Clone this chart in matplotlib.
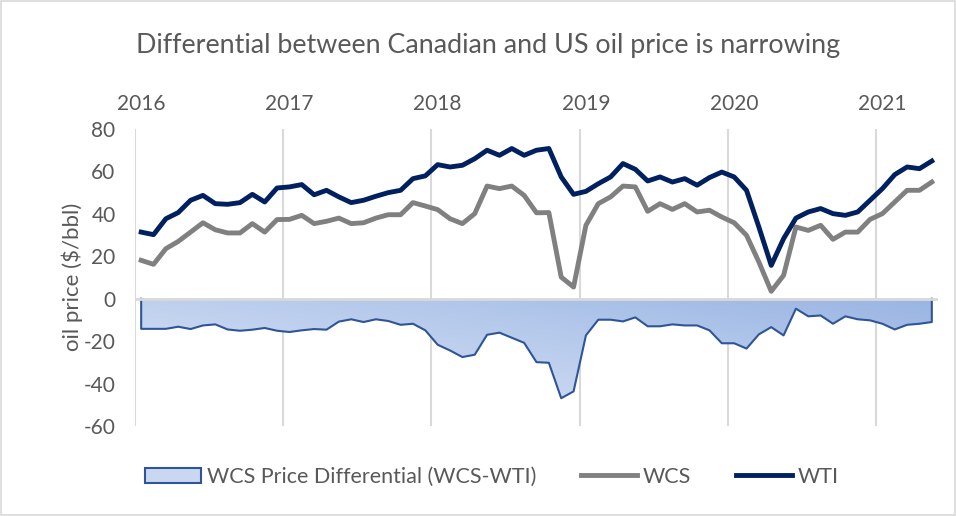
import matplotlib.pyplot as plt
import numpy as np
from matplotlib.patches import Patch, Rectangle
from matplotlib.lines import Line2D
from matplotlib.legend_handler import HandlerPatch

# Monthly prices, Jan 2016 - May 2021 ($/bbl)
wti = [31.4, 30.2, 37.7, 40.6, 46.4, 48.7, 44.8, 44.5, 45.3, 49.2, 45.6, 52.2,
       52.7, 53.8, 49.0, 51.1, 48.0, 45.3, 46.4, 48.3, 50.0, 51.1, 56.6, 57.9,
       63.2, 62.1, 62.9, 66.0, 70.0, 67.6, 70.8, 67.6, 70.0, 70.8, 57.4, 49.2,
       50.6, 54.2, 57.4, 63.7, 61.0, 55.5, 57.4, 55.0, 56.6, 53.5, 57.1, 59.7,
       57.4, 51.1, 33.8, 15.7, 28.3, 38.0, 40.9, 42.5, 40.1, 39.3, 40.9, 46.4,
       51.9, 58.5, 62.1, 61.3, 64.9]
wcs = [18.1, 16.2, 23.6, 27.0, 31.4, 35.8, 32.5, 31.0, 31.0, 35.4, 31.4, 37.3,
       37.4, 39.3, 35.4, 36.5, 38.0, 35.4, 35.8, 38.0, 39.6, 39.6, 45.3, 43.7,
       42.0, 37.7, 35.4, 40.1, 53.1, 51.9, 53.1, 48.7, 40.5, 40.6, 10.2, 5.5,
       34.6, 44.8, 48.0, 53.1, 52.7, 41.2, 44.8, 42.1, 44.8, 40.9, 41.7, 38.5,
       35.8, 29.9, 17.3, 3.5, 11.0, 33.8, 32.2, 34.6, 28.0, 31.4, 31.4, 37.4,
       40.1, 45.6, 51.1, 51.1, 55.0]
diff = [-14.2, -14.2, -14.2, -13.2, -14.3, -12.6, -12.1, -14.5, -15.1, -14.6, -13.8, -15.1,
        -15.7, -14.9, -14.3, -14.6, -10.8, -9.7, -11.0, -9.7, -10.5, -12.3, -11.8, -14.9,
        -21.7, -24.4, -27.5, -26.4, -17.0, -16.0, -18.4, -20.8, -29.9, -30.2, -46.9, -43.7,
        -17.3, -9.9, -9.9, -10.7, -8.8, -13.0, -13.0, -12.1, -12.6, -12.6, -14.9, -21.0,
        -21.0, -23.5, -16.8, -13.4, -17.3, -4.7, -8.3, -7.9, -11.8, -8.3, -9.7, -10.2,
        -11.8, -14.5, -12.3, -11.8, -11.0]
years = ['2016', '2017', '2018', '2019', '2020', '2021']

TEXT = '#595959'
plt.rcParams['font.family'] = ['Lato', 'DejaVu Sans']
plt.rcParams['axes.unicode_minus'] = False

months = np.arange(len(wti))
n = len(wti)

fig = plt.figure(figsize=(9.56, 5.16), dpi=100)
ax = fig.add_axes([135 / 956, 90 / 516, 803 / 956, 297 / 516])

# year gridlines sit between December and January
for k in range(len(years)):
    ax.axvline(12 * k - 0.5, color='#d9d9d9', lw=1.5, zorder=0)
ax.axhline(0, color='#d9d9d9', lw=2, zorder=3)

# differential area with a diagonal gradient
poly = ax.fill_between(months, diff, 0, color='none', lw=0, zorder=1)
xx, yy = np.meshgrid(np.linspace(0, 1, 200), np.linspace(0, 1, 100))
t = 0.55 * xx + 0.45 * yy
light = np.array([0.87, 0.905, 0.97])
dark = np.array([0.60, 0.71, 0.89])
img = light[None, None, :] + t[:, :, None] * (dark - light)[None, None, :]
im = ax.imshow(img, extent=(-0.5, n - 0.5, -50, 0), origin='lower',
               aspect='auto', zorder=1)
im.set_clip_path(poly.get_paths()[0], transform=ax.transData)
ax.plot(np.r_[0, months, n - 1], np.r_[0, diff, 0], color='#2f5597', lw=1.5, zorder=2)

ax.plot(months, wcs, color='#808080', lw=3.5, zorder=4, solid_joinstyle='round')
ax.plot(months, wti, color='#002060', lw=3.5, zorder=5, solid_joinstyle='round')

ax.set_xlim(-0.5, n - 0.5)
ax.set_ylim(-60, 80)
ax.set_yticks(range(-60, 81, 20))
ax.set_xticks(range(0, n, 12))
ax.set_xticklabels(years)
ax.xaxis.tick_top()
ax.tick_params(axis='x', length=0, pad=11, labelsize=15, labelcolor=TEXT)
ax.tick_params(axis='y', length=0, pad=14, labelsize=15, labelcolor=TEXT)
for s in ax.spines.values():
    s.set_visible(False)

fig.text(72 / 956, 1 - 277 / 516, 'oil price ($/bbl)', rotation=90, ha='center',
         va='center', fontsize=16, color=TEXT)
fig.text(488 / 956, 1 - 46 / 516, 'Differential between Canadian and US oil price is narrowing',
         ha='center', va='center', fontsize=19.4, color=TEXT)


def rect_handle(legend, orig_handle, xdescent, ydescent, width, height, fontsize):
    return Rectangle((-xdescent, -ydescent), width, height)


handles = [Patch(facecolor='#c9d7f0', edgecolor='#2f5597', lw=1.5),
           Line2D([], [], color='#808080', lw=3.5),
           Line2D([], [], color='#002060', lw=3.5)]
labels = ['WCS Price Differential (WCS-WTI)', 'WCS', 'WTI']
fig.legend(handles, labels, loc='center', bbox_to_anchor=(492 / 956, 1 - 477 / 516),
           ncol=3, frameon=False, fontsize=15.5, labelcolor=TEXT, handlelength=2.6,
           handletextpad=0.25, columnspacing=2.1,
           handler_map={Patch: HandlerPatch(patch_func=rect_handle)})

fig.add_artist(Rectangle((0.001, 0.001), 0.998, 0.998, transform=fig.transFigure,
                         fill=False, edgecolor='#d9d9d9', lw=1.2))

fig.savefig('out.png', dpi=100)
